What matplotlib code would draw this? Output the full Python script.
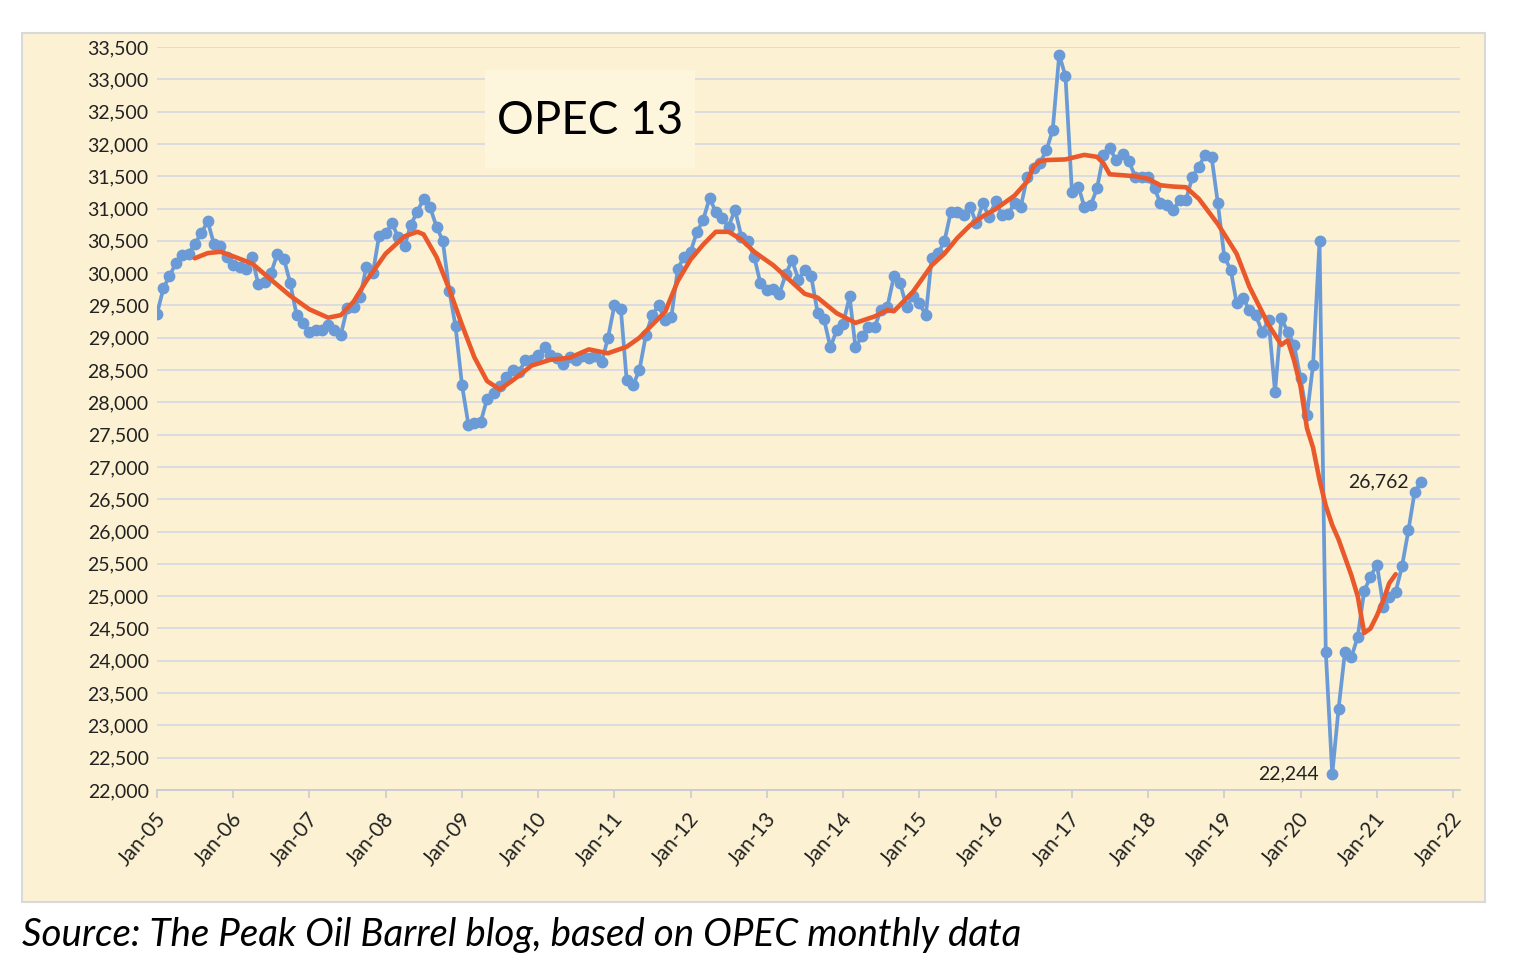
import matplotlib
matplotlib.use("Agg")
import matplotlib.pyplot as plt
import matplotlib.transforms as mtransforms
from matplotlib.patches import Rectangle
import pandas as pd

plt.rcParams['font.family'] = ['Lato', 'DejaVu Sans']

# OPEC 13 crude output (kb/d), monthly from Jan 2005
opec = [
    29370, 29770, 29950, 30150, 30280, 30300, 30450, 30620, 30800, 30450, 30420, 30250,  # 2005
    30130, 30100, 30060, 30250, 29830, 29870, 30000, 30300, 30220, 29850, 29350, 29230,  # 2006
    29090, 29120, 29120, 29200, 29120, 29050, 29460, 29480, 29630, 30100, 30000, 30580,  # 2007
    30620, 30770, 30560, 30420, 30750, 30950, 31150, 31020, 30720, 30500, 29730, 29180,  # 2008
    28270, 27650, 27680, 27700, 28050, 28150, 28250, 28400, 28500, 28470, 28650, 28650,  # 2009
    28730, 28860, 28730, 28680, 28600, 28700, 28650, 28720, 28680, 28720, 28620, 28990,  # 2010
    29500, 29450, 28340, 28270, 28500, 29040, 29350, 29500, 29270, 29320, 30070, 30250,  # 2011
    30330, 30640, 30820, 31160, 30950, 30850, 30720, 30980, 30560, 30490, 30250, 29840,  # 2012
    29740, 29760, 29680, 29980, 30200, 29900, 30050, 29950, 29380, 29290, 28850, 29120,  # 2013
    29220, 29640, 28850, 29020, 29170, 29170, 29430, 29480, 29950, 29840, 29480, 29640,  # 2014
    29530, 29350, 30230, 30310, 30490, 30950, 30950, 30900, 31030, 30770, 31080, 30870,  # 2015
    31110, 30900, 30920, 31080, 31030, 31490, 31620, 31710, 31900, 32220, 33380, 33050,  # 2016
    31260, 31340, 31030, 31050, 31310, 31830, 31930, 31750, 31850, 31730, 31490, 31490,  # 2017
    31490, 31310, 31080, 31050, 30980, 31130, 31130, 31490, 31650, 31830, 31800, 31080,  # 2018
    30250, 30050, 29530, 29610, 29430, 29350, 29090, 29270, 28160, 29300, 29090, 28890,  # 2019
    28370, 27800, 28580, 30490, 24140, 22244, 23250, 24140, 24060, 24370, 25080, 25300,  # 2020
    25490, 24840, 24990, 25070, 25460, 26020, 26620, 26762,                              # 2021
]
months = pd.date_range("2005-01-01", periods=len(opec), freq="MS")

# red trend line
trend_months = [
    "2005-07", "2005-09", "2005-11", "2006-01", "2006-04", "2006-07", "2006-10",
    "2007-01", "2007-04", "2007-06", "2007-08", "2007-10", "2008-01", "2008-04",
    "2008-06", "2008-07", "2008-09", "2008-11", "2009-01", "2009-03", "2009-05",
    "2009-07", "2009-09", "2009-12", "2010-03", "2010-06", "2010-09", "2010-12",
    "2011-03", "2011-05", "2011-07", "2011-09", "2011-11", "2012-01", "2012-03",
    "2012-05", "2012-07", "2012-09", "2012-11", "2013-02", "2013-05", "2013-07",
    "2013-09", "2013-12", "2014-03", "2014-06", "2014-08", "2014-09", "2014-12",
    "2015-03", "2015-05", "2015-07", "2015-09", "2015-11", "2016-01", "2016-04",
    "2016-06", "2016-07", "2016-08", "2016-09", "2016-12", "2017-03", "2017-05",
    "2017-06", "2017-07", "2017-11", "2018-01", "2018-03", "2018-05", "2018-07",
    "2018-09", "2018-12", "2019-03", "2019-05", "2019-08", "2019-10", "2019-11",
    "2019-12", "2020-01", "2020-02", "2020-03", "2020-04", "2020-05", "2020-06",
    "2020-07", "2020-08", "2020-09", "2020-10", "2020-11", "2020-12", "2021-01",
    "2021-02", "2021-03", "2021-04",
]
trend_vals = [
    30230, 30310, 30330, 30260, 30150, 29900, 29650,
    29440, 29310, 29350, 29560, 29880, 30300, 30570,
    30640, 30600, 30250, 29750, 29200, 28700, 28330,
    28200, 28340, 28570, 28660, 28690, 28820, 28760,
    28860, 29000, 29200, 29400, 29880, 30210, 30440,
    30640, 30640, 30520, 30330, 30120, 29860, 29680,
    29620, 29380, 29230, 29330, 29430, 29410, 29710,
    30120, 30300, 30540, 30740, 30880, 30990, 31200,
    31420, 31650, 31730, 31750, 31760, 31830, 31800,
    31700, 31530, 31500, 31460, 31360, 31340, 31330,
    31150, 30760, 30300, 29790, 29200, 28890, 28960,
    28650, 28250, 27600, 27300, 26800, 26400, 26100,
    25880, 25600, 25320, 25000, 24430, 24500, 24700,
    24940, 25200, 25340,
]

years = list(range(2005, 2023))
year_labels = ["Jan-%02d" % (y % 100) for y in years]
y_ticks = list(range(22000, 33501, 500))

bg = "#FCF2D3"
blue = "#6B9BD7"
red = "#E9592C"
W, H = 1536, 966

fig = plt.figure(figsize=(W / 100, H / 100), dpi=100)
fig.patches.append(Rectangle((22 / W, 1 - 902 / H), 1463 / W, 869 / H, transform=fig.transFigure,
                             facecolor=bg, edgecolor="#D9D9D9", lw=1.5, zorder=-1))

ax = fig.add_axes([157 / W, 1 - 790 / H, (1460 - 157) / W, (790 - 47) / H])
ax.set_facecolor("none")

ax.plot(months, opec, color=blue, lw=2.7, marker="o", ms=7.5, zorder=3)
ax.plot(pd.to_datetime(trend_months), trend_vals, color=red, lw=3.3, zorder=4,
        solid_capstyle="round", solid_joinstyle="round")

ax.set_xlim(pd.Timestamp("2005-01-01"), pd.Timestamp("2022-02-03"))
ax.set_ylim(22000, 33500)
ax.set_yticks(y_ticks)
ax.set_yticklabels([f"{v:,}" for v in y_ticks])
ax.yaxis.grid(True, color="#D8D9E2", lw=1.3)
ax.set_axisbelow(True)
for s in ["top", "right", "left"]:
    ax.spines[s].set_visible(False)
ax.spines["bottom"].set_color("#C9CBD2")
ax.spines["bottom"].set_linewidth(1.3)

ax.set_xticks([pd.Timestamp(f"{y}-01-01") for y in years])
ax.set_xticklabels(year_labels, rotation=50, ha="right", va="center", rotation_mode="anchor")
ax.tick_params(axis="x", length=6, width=1.2, color="#C9CBD2", pad=12, labelsize=15, labelcolor="#222222")
ax.tick_params(axis="y", length=0, pad=6, labelsize=14, labelcolor="#222222")
shift = mtransforms.ScaledTranslation(5 / 100, 0, fig.dpi_scale_trans)
for lab in ax.get_xticklabels():
    lab.set_transform(lab.get_transform() + shift)

ax.annotate("26,762", xy=(months[-1], opec[-1]), xytext=(-12, 0), textcoords="offset pixels",
            ha="right", va="center", fontsize=14, color="#222222")
ax.annotate("22,244", xy=(months[185], opec[185]), xytext=(-13, 0), textcoords="offset pixels",
            ha="right", va="center", fontsize=14, color="#222222")

# title box covering the gridlines
ax.add_patch(Rectangle((485 / W, 1 - 168 / H), 210 / W, 98 / H, transform=fig.transFigure,
                       facecolor="#FDF5DC", edgecolor="none", zorder=2, clip_on=False))
fig.text(590 / W, 1 - 121 / H, "OPEC 13", fontsize=33, ha="center", va="center", color="black", zorder=5)

fig.text(22 / W, 1 - 935 / H, "Source: The Peak Oil Barrel blog, based on OPEC monthly data",
         style="italic", fontsize=27.7, ha="left", va="center", color="black")

fig.savefig("out.png", dpi=100)
